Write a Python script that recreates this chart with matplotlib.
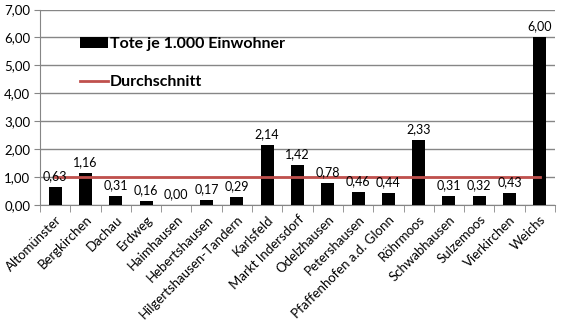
import matplotlib
matplotlib.use("Agg")
import matplotlib.pyplot as plt
from matplotlib.ticker import MultipleLocator, FuncFormatter

# daten
orte = ["Altomünster", "Bergkirchen", "Dachau", "Erdweg", "Haimhausen", "Hebertshausen",
        "Hilgertshausen-Tandern", "Karlsfeld", "Markt Indersdorf", "Odelzhausen",
        "Petershausen", "Pfaffenhofen a.d. Glonn", "Röhrmoos", "Schwabhausen",
        "Sulzemoos", "Vierkirchen", "Weichs"]
tote_je_1000 = [0.63, 1.16, 0.31, 0.16, 0.00, 0.17, 0.29, 2.14, 1.42, 0.78,
                0.46, 0.44, 2.33, 0.31, 0.32, 0.43, 6.00]
durchschnitt = 1.02

plt.rcParams['font.family'] = ['Lato', 'DejaVu Sans']
grau = "#868686"

fig = plt.figure(figsize=(5.67, 3.25), dpi=100)
ax = fig.add_axes([40 / 567, 1 - 205 / 325, 515 / 567, 195.5 / 325])

x = list(range(len(orte)))
balken = ax.bar(x, tote_je_1000, width=0.43, color="black", zorder=3)
linie, = ax.plot([x[0], x[-1]], [durchschnitt, durchschnitt], color="#c0504d", lw=2, zorder=4)

# werte ueber den balken
for xi, v in zip(x, tote_je_1000):
    ax.annotate(f"{v:.2f}".replace(".", ","), (xi, v), xytext=(0, 3.5), textcoords="offset points",
                ha="center", va="bottom", fontsize=9, zorder=5)

ax.set_xlim(-0.5, len(orte) - 0.5)
ax.set_ylim(0, 7)
ax.yaxis.set_major_locator(MultipleLocator(1))
ax.yaxis.set_major_formatter(FuncFormatter(lambda v, p: f"{v:.2f}".replace(".", ",")))
ax.grid(axis="y", color=grau, lw=1, zorder=0)
ax.set_axisbelow(True)

ax.set_xticks(x)
ax.set_xticklabels(orte, rotation=45, ha="right", rotation_mode="anchor", fontsize=9.5)
ax.set_xticks([i - 0.5 for i in range(len(orte) + 1)], minor=True)
ax.tick_params(axis="x", which="major", length=0, pad=6)
ax.tick_params(axis="x", which="minor", length=5, color=grau, direction="out")
ax.tick_params(axis="y", length=4, color=grau, labelsize=9.5, pad=3)

for s in ["top", "right"]:
    ax.spines[s].set_visible(False)
for s in ["left", "bottom"]:
    ax.spines[s].set_color(grau)

ax.legend([balken, linie], ["Tote je 1.000 Einwohner", "Durchschnitt"],
          loc="upper left", bbox_to_anchor=(0.063, 0.9), frameon=False,
          prop={"weight": "bold", "size": 11.5}, handlelength=1.75, handletextpad=0.1,
          labelspacing=1.5, borderpad=0)

fig.savefig("out.png", dpi=100)
